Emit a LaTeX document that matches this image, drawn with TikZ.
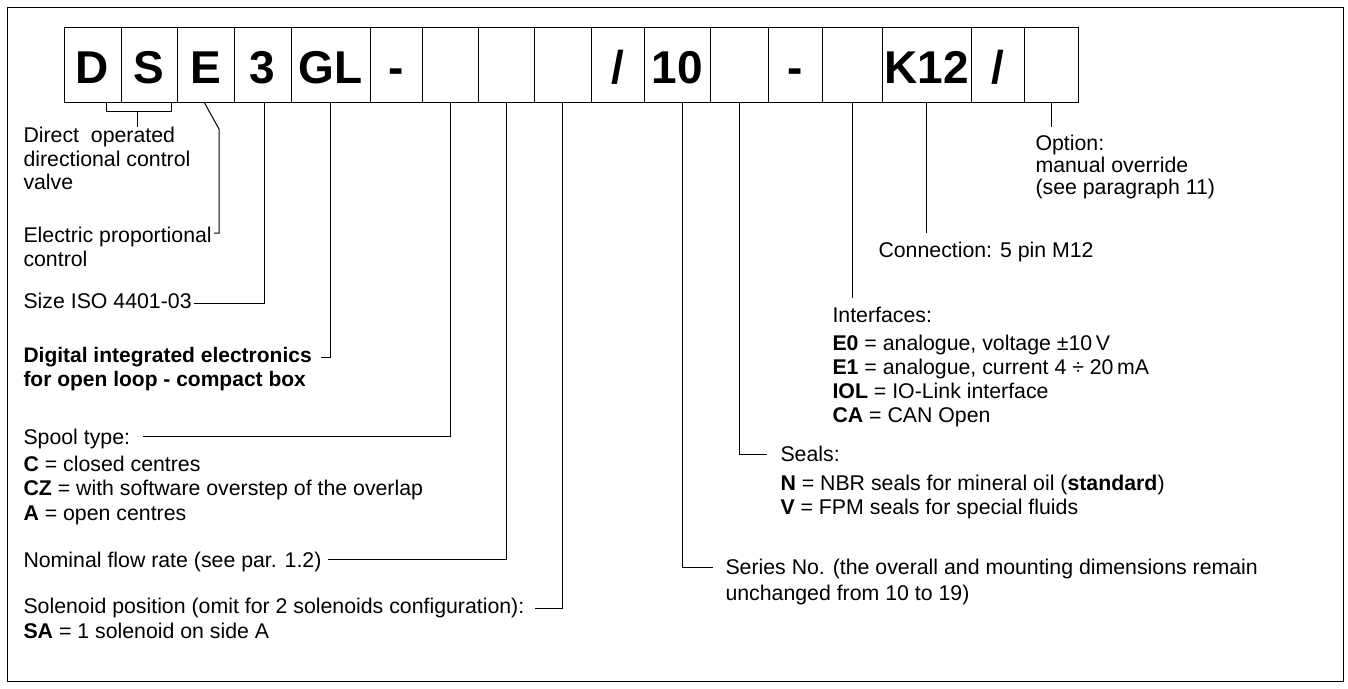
\documentclass[tikz,border=0pt]{standalone}
\usepackage{fontspec}
\setmainfont{Liberation Sans}
\begin{document}
\begin{tikzpicture}[x=1pt,y=-1pt,line width=1pt,
  cell/.style={draw, minimum height=75pt, inner sep=0pt, outer sep=0pt,
    font=\fontsize{46}{46}\selectfont\bfseries, text height=37pt, text depth=0pt},
  lbl/.style={anchor=north west, inner sep=0pt, align=left,
    font=\fontsize{21.3}{23.5}\selectfont},
  lblb/.style={lbl, font=\fontsize{21}{24}\selectfont\bfseries},
  conn/.style={draw, line width=1pt}]
\useasboundingbox (0,0) rectangle (1348,688);
\draw (7,7) rectangle (1343,681);
% code boxes
\node[cell, minimum width=57pt] (bD)  at (92.5,64.5)  {D};
\node[cell, minimum width=56pt] (bS)  at (149,64.5)   {S};
\node[cell, minimum width=57pt] (bE)  at (205.5,64.5) {E};
\node[cell, minimum width=57pt] (b3)  at (262.5,64.5) {3};
\node[cell, minimum width=79pt] (bGL) at (330.5,64.5) {GL};
\node[cell, minimum width=52pt] (bm1) at (396,64.5)   {-};
\node[cell, minimum width=56pt] (bx1) at (450,64.5)   {};
\node[cell, minimum width=56pt] (bx2) at (506,64.5)   {};
\node[cell, minimum width=57pt] (bx3) at (562.5,64.5) {};
\node[cell, minimum width=53pt] (bsl1) at (617.5,64.5) {/};
\node[cell, minimum width=66pt] (b10) at (677,64.5)   {10};
\node[cell, minimum width=58pt] (bx4) at (739,64.5)   {};
\node[cell, minimum width=54pt] (bm2) at (795,64.5)   {-};
\node[cell, minimum width=60pt] (bx5) at (852,64.5)   {};
\node[cell, minimum width=89pt] (bK)  at (926.5,64.5) {K12};
\node[cell, minimum width=53pt] (bsl2) at (997.5,64.5) {/};
\node[cell, minimum width=54pt] (bx6) at (1051,64.5)  {};
% texts
\node[lbl] (tDirect) at (23,127) {Direct\ \ operated\\directional control\\valve};
\node[lbl] (tElec) at (23,227) {Electric proportional\\control};
\node[lbl] (tSize) at (23,293) {Size ISO 4401-03};
\node[lblb] (tDig) at (23,347) {Digital integrated electronics\\for open loop - compact box};
\node[lbl, font=\fontsize{21.3}{24.5}\selectfont] (tSpool) at (23,429) {Spool type:\\[2pt]\textbf{C} = closed centres\\\textbf{CZ} = with software overstep of the overlap\\\textbf{A} = open centres};
\node[lbl] (tNom) at (23,552) {Nominal flow rate (see par. 1.2)};
\node[lbl, font=\fontsize{21.3}{24.5}\selectfont] (tSol) at (23,598) {Solenoid position (omit for 2 solenoids configuration):\\\textbf{SA} = 1 solenoid on side A};
\node[lbl, font=\fontsize{21.3}{25.5}\selectfont] (tSer) at (725,559) {Series No. (the overall and mounting dimensions remain\\unchanged from 10 to 19)};
\node[lbl, font=\fontsize{21.3}{24}\selectfont] (tSeal) at (780,446) {Seals:\\[5pt]\textbf{N} = NBR seals for mineral oil (\textbf{standard})\\\textbf{V} = FPM seals for special fluids};
\node[lbl, font=\fontsize{21.3}{24}\selectfont] (tInt) at (832,307) {Interfaces:\\[4pt]\textbf{E0} = analogue, voltage ±10\,V\\\textbf{E1} = analogue, current 4 ÷ 20\,mA\\\textbf{IOL} = IO-Link interface\\\textbf{CA} = CAN Open};
\node[lbl] (tCon) at (878,242) {Connection: 5 pin M12};
\node[lbl, font=\fontsize{21.3}{22}\selectfont] (tOpt) at (1035,135) {Option:\\manual override\\(see paragraph 11)};
% connector end points
\coordinate (brk) at (137,111);
\coordinate (eK) at (219,129);
\coordinate (eE) at (214,233);
\coordinate (e3) at (194,303);
\coordinate (eGL) at (321,357);
\coordinate (eSp) at (143,436);
\coordinate (eNo) at (328,559);
\coordinate (eSo) at (535,608);
\coordinate (eSe) at (713,567);
\coordinate (eSl) at (767,454);
% connectors
\draw[conn] (106,0 |- bD.south) -- (106,111) -- (171,111) -- (171,0 |- bS.south);
\draw[conn] (brk) -- (brk |- tDirect.north);
\draw[conn] ([xshift=-1.5pt]bE.south) -- (eK) |- (eE);
\draw[conn] ([xshift=1.5pt]b3.south) |- (e3);
\draw[conn] (bGL.south) |- (eGL);
\draw[conn] (bx1.south) |- (eSp);
\draw[conn] (bx2.south) |- (eNo);
\draw[conn] (bx3.south) |- (eSo);
\draw[conn] ([xshift=5pt]b10.south) |- (eSe);
\draw[conn] (bx4.south) |- (eSl);
\draw[conn] (bx5.south) -- ([yshift=9pt]bx5.south |- tInt.north);
\draw[conn] (bK.south) -- ([yshift=9pt]bK.south |- tCon.north);
\draw[conn] (bx6.south) -- ([yshift=8pt]bx6.south |- tOpt.north);
\end{tikzpicture}
\end{document}
